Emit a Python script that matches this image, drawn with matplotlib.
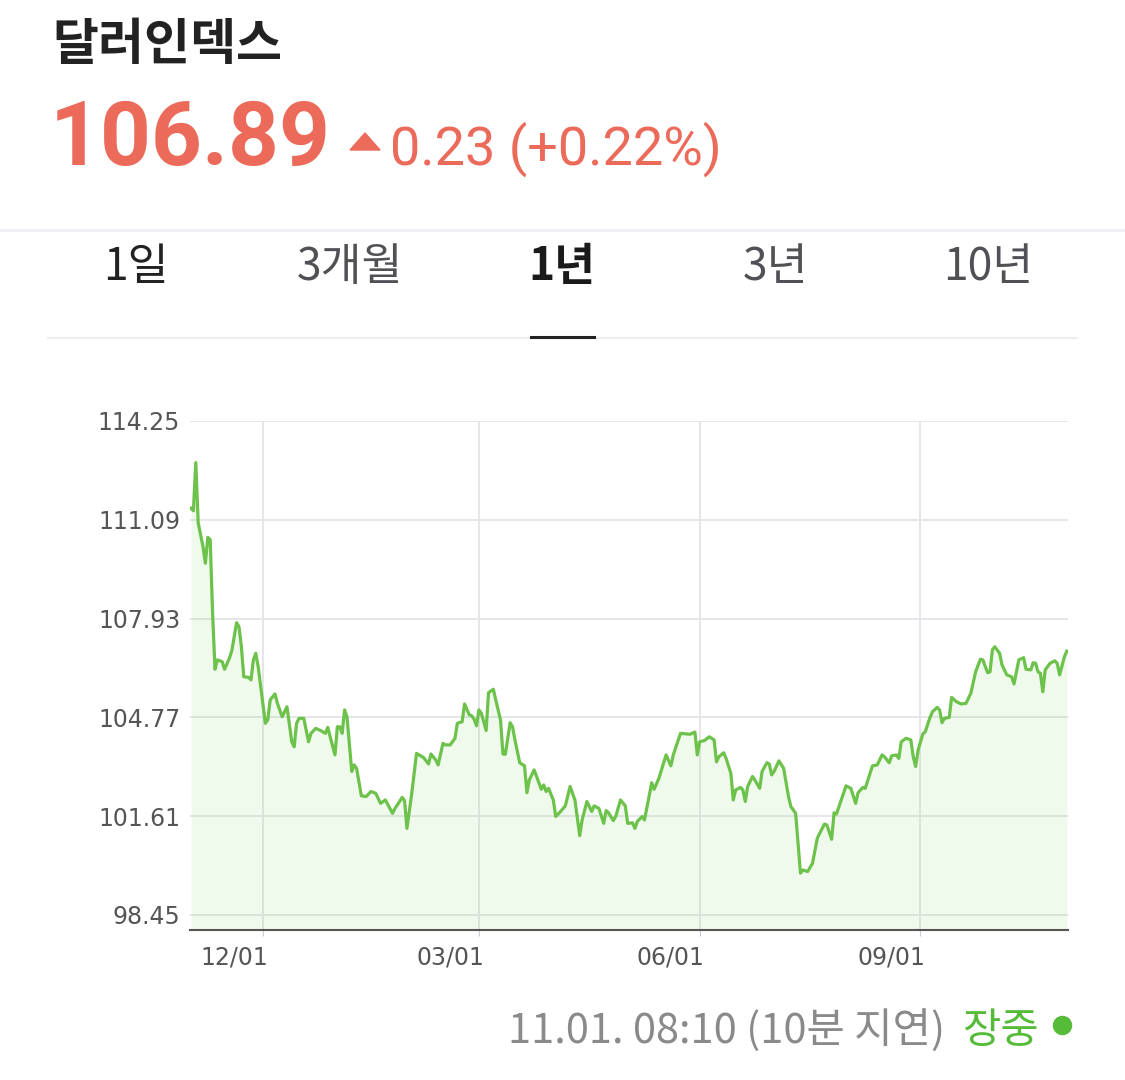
import matplotlib
matplotlib.use('Agg')
import matplotlib.pyplot as plt
import pandas as pd
from matplotlib.lines import Line2D
from matplotlib.patches import Polygon
from matplotlib.transforms import ScaledTranslation

plt.rcParams['font.family'] = ['Noto Sans CJK KR', 'DejaVu Sans']

# 달러인덱스 1년 (2022-11-01 ~ 2023-11-01), 시작일 기준 경과일수
start = pd.Timestamp('2022-11-01')
days = [0, 1, 2, 3, 5, 6, 7, 8, 9, 10, 11, 13, 14, 16, 17, 19, 20, 21, 22, 24,
        25, 26, 27, 28, 31, 32, 33, 35, 36, 38, 39, 40, 42, 43, 44, 45, 47, 49, 50, 52,
        54, 56, 57, 58, 60, 61, 62, 63, 64, 65, 67, 68, 69, 71, 73, 75, 77, 79, 81, 84,
        85, 86, 88, 89, 90, 92, 94, 97, 99, 100, 102, 103, 105, 106, 108, 110, 111, 113, 114, 116,
        117, 118, 119, 120, 121, 123, 124, 126, 127, 129, 130, 131, 133, 134, 135, 137, 139, 140, 141, 143,
        144, 146, 147, 148, 149, 151, 152, 154, 156, 158, 160, 162, 163, 165, 167, 168, 170, 172, 173, 174,
        176, 177, 179, 181, 182, 184, 185, 186, 188, 189, 192, 193, 195, 198, 200, 201, 204, 207, 208, 210,
        211, 212, 214, 216, 218, 219, 220, 222, 223, 225, 226, 227, 229, 230, 231, 232, 234, 235, 237, 238,
        240, 241, 242, 243, 245, 247, 249, 250, 252, 254, 255, 257, 259, 261, 262, 264, 265, 267, 268, 269,
        271, 273, 275, 277, 278, 280, 281, 284, 286, 288, 289, 291, 292, 294, 295, 296, 298, 300, 301, 302,
        303, 305, 306, 308, 309, 311, 312, 313, 314, 316, 317, 319, 321, 323, 325, 327, 329, 330, 332, 333,
        334, 335, 337, 338, 340, 342, 343, 345, 347, 348, 350, 351, 352, 353, 354, 355, 356, 358, 360, 361,
        362, 364, 365]
values = [111.46, 111.38, 112.92, 110.99, 110.23, 109.70, 110.53, 110.45, 108.10, 106.31,
          106.61, 106.55, 106.31, 106.66, 106.90, 107.80, 107.67, 107.03, 106.07, 106.05,
          105.97, 106.61, 106.82, 106.39, 104.58, 104.69, 105.33, 105.52, 105.22, 104.79,
          104.95, 105.11, 103.99, 103.83, 104.58, 104.74, 104.74, 103.99, 104.26, 104.42,
          104.35, 104.26, 104.45, 104.15, 103.57, 104.47, 104.47, 104.26, 105.01, 104.79,
          103.04, 103.25, 103.14, 102.26, 102.24, 102.40, 102.34, 102.02, 102.13, 101.70,
          101.86, 101.97, 102.21, 102.11, 101.22, 102.34, 103.62, 103.48, 103.28, 103.60,
          103.41, 103.25, 103.94, 103.89, 103.89, 104.10, 104.58, 104.63, 105.20, 104.85,
          104.82, 104.71, 104.50, 105.01, 104.90, 104.35, 105.56, 105.67, 105.33, 104.69,
          103.60, 103.59, 104.60, 104.47, 104.05, 103.32, 103.22, 102.36, 102.77, 103.09,
          102.88, 102.47, 102.61, 102.40, 102.50, 102.13, 101.60, 101.76, 101.94, 102.56,
          102.13, 100.99, 101.49, 102.08, 101.76, 101.94, 101.86, 101.38, 101.79, 101.72,
          101.47, 101.60, 102.13, 101.94, 101.38, 101.40, 101.22, 101.44, 101.60, 101.49,
          102.68, 102.47, 102.82, 103.57, 103.22, 103.57, 104.26, 104.24, 104.23, 104.30,
          103.57, 103.99, 104.03, 104.15, 104.05, 103.35, 103.51, 103.64, 103.46, 102.98,
          102.13, 102.45, 102.53, 102.45, 102.08, 102.56, 102.88, 102.77, 102.50, 103.04,
          103.32, 103.28, 102.93, 103.04, 103.38, 103.14, 102.24, 101.92, 101.70, 99.79,
          99.89, 99.84, 100.10, 100.90, 101.06, 101.36, 101.33, 100.87, 101.72, 101.68,
          102.13, 102.58, 102.50, 102.02, 102.36, 102.53, 102.50, 103.22, 103.25, 103.57,
          103.51, 103.32, 103.54, 103.57, 103.46, 103.99, 104.10, 104.05, 103.51, 103.20,
          103.72, 104.24, 104.31, 104.77, 104.95, 105.09, 105.01, 104.60, 104.74, 104.77,
          105.41, 105.27, 105.20, 105.22, 105.54, 106.23, 106.63, 106.61, 106.20, 106.23,
          106.93, 107.03, 106.82, 106.45, 106.13, 106.07, 105.84, 106.61, 106.68, 106.31,
          106.29, 106.52, 106.50, 106.23, 106.18, 105.59, 106.29, 106.50, 106.58, 106.50,
          106.13, 106.71, 106.89]

yticks = [98.45, 101.61, 104.77, 107.93, 111.09, 114.25]
xticks = ['2022-12-01', '2023-03-01', '2023-06-01', '2023-09-01']
tabs = ['1일', '3개월', '1년', '3년', '10년']
tab_x = [136, 350, 562, 775, 988]

W, H = 1125, 1080
def fx(x):
    return x / W
def fy(y):
    return 1 - y / H

dates = start + pd.to_timedelta(days, unit='D')

fig = plt.figure(figsize=(11.25, 10.8), dpi=100)
ax = fig.add_axes([fx(190), fy(930), (1068 - 190) / W, (930 - 421) / H])

ax.fill_between(dates, values, 90, color='#6ED246', alpha=0.1, lw=0)
ax.plot(dates, values, color='#6CC24A', lw=2.3)

ax.set_ylim(97.97, 114.25)
ax.set_xlim(start - pd.Timedelta(hours=10), pd.Timestamp('2023-11-01') + pd.Timedelta(hours=12))
ax.set_yticks(yticks)
ax.set_yticklabels(['%.2f' % v for v in yticks], fontfamily='DejaVu Sans')
xt = pd.to_datetime(xticks)
ax.set_xticks(xt)
ax.set_xticklabels(xt.strftime('%m/%d'), fontfamily='DejaVu Sans', ha='right')

ax.grid(True, color='#e6e6ea', lw=1.4)
ax.set_axisbelow(True)
for s in ['top', 'left', 'right']:
    ax.spines[s].set_visible(False)
ax.spines['bottom'].set_color('#555555')
ax.spines['bottom'].set_linewidth(1.5)
ax.tick_params(axis='y', length=0, pad=7, labelsize=17, labelcolor='#555555')
ax.tick_params(axis='x', length=4, color='#cccccc', pad=7, labelsize=17, labelcolor='#555555')

for lbl in ax.get_xticklabels():
    lbl.set_transform(lbl.get_transform() + ScaledTranslation(5 / 100, 0, fig.dpi_scale_trans))

# 헤더
fig.text(fx(52), fy(45), '달러인덱스', fontsize=36, fontweight='bold', color='#222222', va='center')
fig.text(fx(50), fy(165), '106.89', family='Roboto', fontweight='bold', fontsize=64,
         color='#EC6A5A', va='baseline')
fig.add_artist(Polygon([(fx(350), fy(150)), (fx(380), fy(150)), (fx(365), fy(133))],
                       closed=True, color='#EC6A5A', transform=fig.transFigure))
fig.text(fx(390), fy(165), '0.23 (+0.22%)', family='Roboto', fontsize=39,
         color='#EC6A5A', va='baseline')

# 기간 탭
fig.add_artist(Line2D([0, 1], [fy(230), fy(230)], color='#eef0f3', lw=2.2, transform=fig.transFigure))
fig.add_artist(Line2D([fx(48), fx(1077)], [fy(338), fy(338)], color='#eeeeee', lw=1.5,
                      transform=fig.transFigure))
for i, t in enumerate(tabs):
    if t == '1년':
        fig.text(fx(tab_x[i]), fy(280), t, fontsize=32, fontweight='bold', color='#1a1a1a',
                 ha='center', va='baseline')
    else:
        c = '#222222' if i == 0 else '#505055'
        fig.text(fx(tab_x[i]), fy(280), t, fontsize=32, color=c, ha='center', va='baseline')
fig.add_artist(Line2D([fx(531), fx(594)], [fy(337), fy(337)], color='#222222', lw=2.2,
                      transform=fig.transFigure))

# 하단 시각
fig.text(fx(945), fy(1043), '11.01. 08:10 (10분 지연)', fontsize=30, color='#8a8a8a',
         ha='right', va='baseline')
fig.text(fx(962), fy(1043), '장중', fontsize=30, color='#57BB3A', va='baseline')
fig.add_artist(Line2D([fx(1062)], [fy(1025)], marker='o', ms=13, color='#57BB3A', lw=0,
                      transform=fig.transFigure))

fig.savefig('out.png', dpi=100)
